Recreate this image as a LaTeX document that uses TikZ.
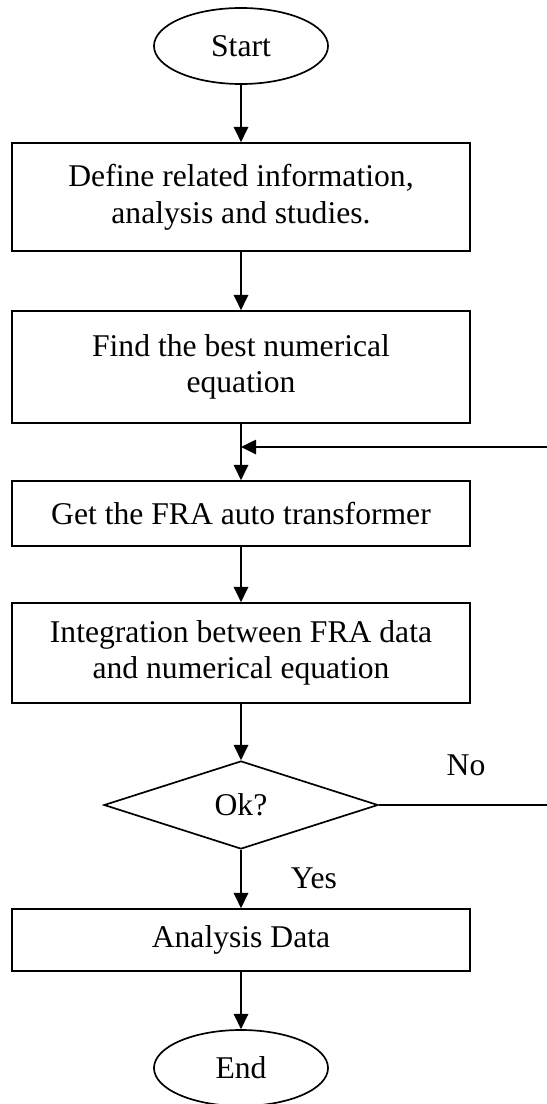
\documentclass[tikz,border=0pt]{standalone}
\usepackage{fontspec}
\setmainfont{Liberation Serif}
\usetikzlibrary{shapes.geometric,arrows.meta}

\begin{document}
\begin{tikzpicture}[x=0.025cm,y=-0.025cm,
		every node/.style={font=\fontsize{22.5}{26}\selectfont},
		block/.style={draw, line width=1.2pt, rectangle, minimum width=11.45cm, align=center, inner sep=0pt},
		terminal/.style={draw, line width=1.2pt, ellipse, minimum width=4.35cm, minimum height=1.9cm, inner sep=0pt},
		decision/.style={draw, line width=1.2pt, diamond, minimum width=6.85cm, minimum height=2.2cm, inner sep=0pt},
		flow/.style={line width=1.4pt, -{Triangle[length=0.38cm,width=0.36cm]}}]
			\useasboundingbox (0,0) rectangle (546,1104);
			
			\node[terminal] (start) at (241,46) {Start};
			\node[block, minimum height=2.7cm] (define) at (241,197) {Define related information,\\analysis and studies.};
			\node[block, minimum height=2.8cm] (best) at (241,367) {Find the best numerical\\equation};
			\node[block, minimum height=1.625cm] (getfra) at (241,513.5) {Get the FRA auto transformer};
			\node[block, minimum height=2.5cm] (integ) at (241,653) {Integration between FRA data\\and numerical equation};
			\node[decision] (ok) at (241,805) {Ok?};
			\node[block, minimum height=1.55cm] (analysis) at (241,940) {Analysis Data};
			\node[terminal] (end) at (241,1068) {End};
			
			\node (no) at (466,765) {No};
			\node (yes) at (314,878) {Yes};
			
			\coordinate (loopin) at (241,447);
			\coordinate (rback) at (560,447);
			
			\draw[flow] (start) -- (define);
			\draw[flow] (define) -- (best);
			\draw[flow] (best) -- (getfra);
			\draw[flow] (getfra) -- (integ);
			\draw[flow] (integ) -- (ok);
			\draw[flow] (ok) -- (analysis);
			\draw[flow] (analysis) -- (end);
			\draw[flow] (ok.east) -| (rback) -- (loopin);
			
		\end{tikzpicture}
\end{document}
